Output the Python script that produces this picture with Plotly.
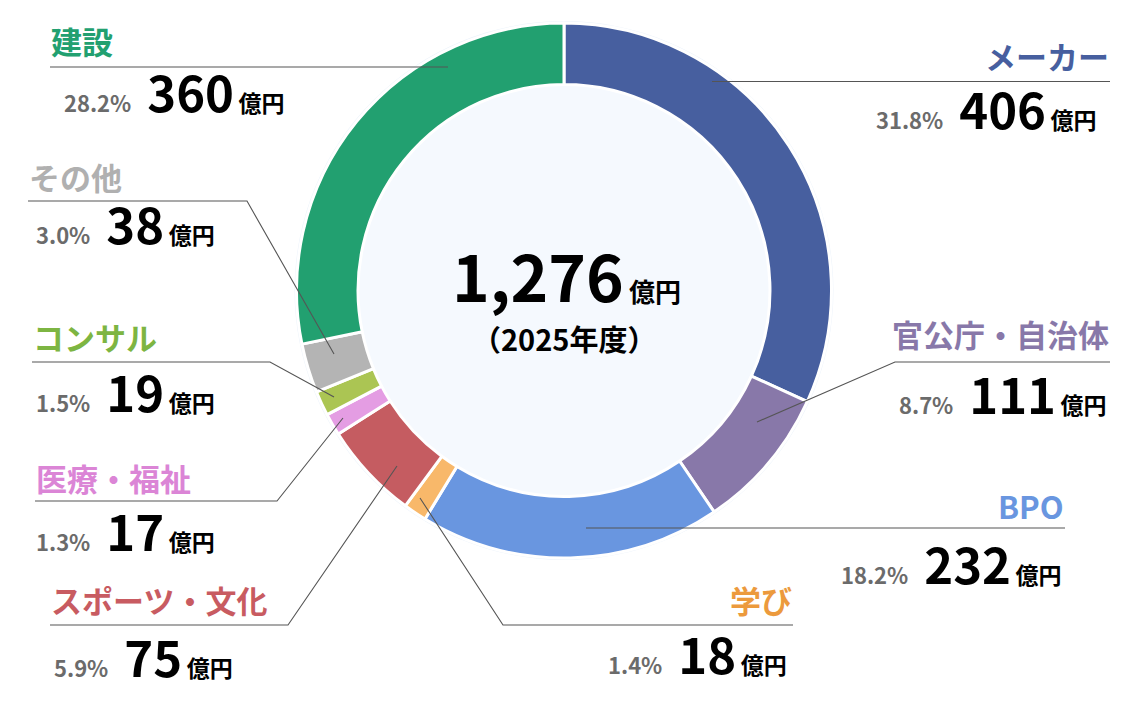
import plotly.graph_objects as go

# ---- data (clockwise from 12 o'clock) ----
categories = ["メーカー", "官公庁・自治体", "BPO", "学び", "スポーツ・文化",
              "医療・福祉", "コンサル", "その他", "建設"]
values = [406, 111, 232, 18, 75, 17, 19, 38, 360]
slice_colors = ["#475f9f", "#8878a9", "#6996e0", "#f8b86a", "#c55c61",
                "#e49de3", "#abc553", "#b4b4b4", "#22a070"]
label_colors = ["#475f9f", "#8878a9", "#6996e0", "#ec9a3d", "#c85b61",
                "#db85d6", "#7db542", "#b0b0b0", "#22a070"]
center_year = "2025年度"
unit = "億円"

W, H = 1124, 702
FONT = "Noto Sans CJK JP"
OFF = 8  # page body margin offset compensation

def px(x):
    return (x - OFF) / W

def py(y):
    return 1 - (y - OFF) / H

# donut geometry (pixels)
CX, CY, R = 564, 290.5, 267.5
HOLE = 0.77

total = sum(values)

fig = go.Figure()
fig.add_trace(go.Pie(
    labels=categories, values=values, sort=False, direction="clockwise",
    rotation=0, hole=HOLE, textinfo="none", hoverinfo="label+value+percent",
    marker=dict(colors=slice_colors, line=dict(color="white", width=3)),
    domain=dict(x=[px(CX - R), px(CX + R)], y=[py(CY + R), py(CY - R)]),
    showlegend=False,
))

shapes = []
# faint halo + light hole fill
shapes.append(dict(type="circle", xref="paper", yref="paper", layer="below",
                   x0=px(CX - R - 2), x1=px(CX + R + 2), y0=py(CY + R + 2), y1=py(CY - R - 2),
                   fillcolor="#eef4fb", line=dict(width=0)))
shapes.append(dict(type="circle", xref="paper", yref="paper", layer="below",
                   x0=px(CX - R * HOLE - 2), x1=px(CX + R * HOLE + 2),
                   y0=py(CY + R * HOLE + 2), y1=py(CY - R * HOLE - 2),
                   fillcolor="#f5f9fe", line=dict(width=0)))

# label layout: (side, name anchor x, name center y, row anchor x, row baseline y, leader path points)
layout_info = {
    "メーカー":      ("right", 1110, 56, 1098, 130, [(712, 81.5), (1110, 81.5)]),
    "官公庁・自治体": ("right", 1110, 333, 1108, 415, [(757, 422), (895, 362), (1110, 362)]),
    "BPO":          ("right", 1065, 505, 1063, 585, [(586, 528), (1065, 528)]),
    "学び":          ("right", 793, 599, 788, 675, [(420, 498), (503, 625), (793, 625)]),
    "スポーツ・文化": ("left", 50, 599, 53, 678, [(397, 466), (288, 625), (50, 625)]),
    "医療・福祉":     ("left", 35, 477, 35, 552, [(343, 418), (277, 501), (35, 501)]),
    "コンサル":       ("left", 32, 336, 35, 413, [(334, 397), (270, 362), (32, 362)]),
    "その他":         ("left", 28, 176, 35, 245, [(334, 354), (247, 201), (28, 201)]),
    "建設":          ("left", 50, 40, 63, 113, [(448, 67), (50, 67)]),
}

annotations = []
for cat, val, lc in zip(categories, values, label_colors):
    side, nx, ny, rx, ry, pts = layout_info[cat]
    path = "M " + " L ".join(f"{px(x)},{py(y)}" for x, y in pts)
    shapes.append(dict(type="path", xref="paper", yref="paper", path=path,
                       line=dict(color="#555555", width=1.1), layer="above"))
    annotations.append(dict(
        x=px(nx), y=py(ny), xref="paper", yref="paper", xanchor=side, yanchor="middle",
        text=f"<b>{cat}</b>", showarrow=False, borderpad=0,
        font=dict(family=FONT, size=31, color=lc)))
    pct = f"{val / total * 100:.1f}%"
    row = (f"<b><span style='font-size:22px;color:#6b6b6b'>{pct}\u00a0</span></b>"
           f"\u00a0<b>{val}</b>"
           f"<b><span style='font-size:23px'>\u2009{unit}</span></b>")
    annotations.append(dict(
        x=px(rx), y=py(ry + 14), xref="paper", yref="paper", xanchor=side, yanchor="bottom",
        text=row, showarrow=False, borderpad=0,
        font=dict(family=FONT, size=49, color="#000000")))

# center text
annotations.append(dict(
    x=px(566), y=py(302 + 19), xref="paper", yref="paper", xanchor="center", yanchor="bottom",
    text=f"<b>{total:,}</b><b><span style='font-size:26px'>\u2009{unit}</span></b>",
    showarrow=False, borderpad=0, font=dict(family=FONT, size=64, color="#000000")))
annotations.append(dict(
    x=px(564), y=py(338), xref="paper", yref="paper", xanchor="center", yanchor="middle",
    text=f"<b>（{center_year}）</b>", showarrow=False, borderpad=0,
    font=dict(family=FONT, size=29, color="#000000")))

fig.update_layout(
    width=W, height=H, margin=dict(l=0, r=0, t=0, b=0),
    paper_bgcolor="white", plot_bgcolor="white",
    shapes=shapes, annotations=annotations, showlegend=False,
    font=dict(family=FONT),
)

fig.write_html("out.html")
